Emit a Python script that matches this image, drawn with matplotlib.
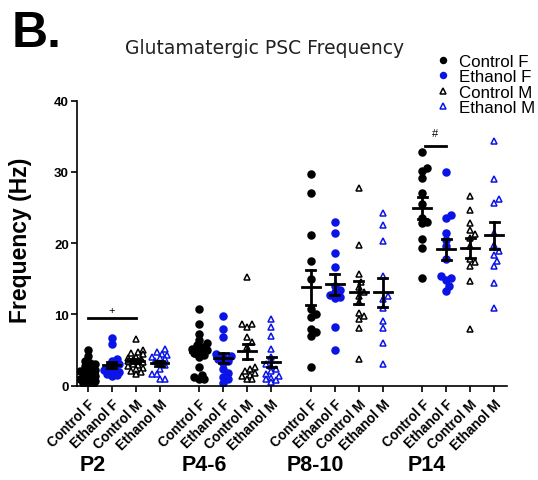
import numpy as np
import matplotlib.pyplot as plt

# ---------------- data (Hz) ----------------
ages = ["P2", "P4-6", "P8-10", "P14"]
groups = ["Control F", "Ethanol F", "Control M", "Ethanol M"]

p2_ctrl_f = [5.0, 4.2, 3.5, 3.2, 3.0, 2.7, 2.4, 2.2, 2.0, 1.8, 1.6, 1.4, 1.2, 1.0, 0.9, 0.7, 0.5, 0.4, 0.3, 0.2, 0.6, 1.1]
p2_eth_f = [6.7, 5.8, 3.8, 3.5, 3.1, 2.8, 2.5, 2.2, 2.0, 1.9, 1.7, 1.5, 1.4, 1.6]
p2_ctrl_m = [6.6, 5.0, 4.8, 4.6, 4.4, 4.1, 3.9, 3.7, 3.5, 3.3, 3.1, 2.9, 2.7, 2.5, 2.3, 2.1, 1.9, 1.6, 3.6, 3.4]
p2_eth_m = [5.2, 4.8, 4.5, 4.3, 4.1, 3.9, 3.7, 3.5, 3.2, 2.9, 2.3, 1.6, 1.6, 1.0, 0.9]

p46_ctrl_f = [10.8, 8.7, 7.3, 6.4, 6.0, 5.7, 5.5, 5.2, 5.0, 4.8, 4.6, 4.3, 4.0, 2.6, 1.5, 1.2, 1.0, 0.9]
p46_eth_f = [9.8, 7.9, 6.8, 4.5, 4.2, 4.0, 3.8, 3.5, 3.2, 2.3, 1.8, 1.2, 0.9, 0.4]
p46_ctrl_m = [15.2, 8.7, 8.6, 8.2, 6.8, 6.1, 5.5, 2.6, 2.3, 2.1, 1.8, 1.5, 1.3, 1.0, 0.9]
p46_eth_m = [9.4, 8.2, 7.0, 5.2, 4.0, 3.0, 2.8, 2.3, 2.0, 1.7, 1.4, 1.1, 0.8, 0.5, 0.9]

p810_ctrl_f = [29.7, 27.1, 21.2, 17.5, 15.0, 10.8, 10.0, 9.6, 7.9, 7.5, 7.0, 2.6]
p810_eth_f = [23.0, 21.4, 18.6, 16.6, 14.0, 13.5, 13.2, 12.8, 12.5, 12.3, 8.2, 5.0]
p810_ctrl_m = [27.7, 19.8, 15.7, 14.5, 13.8, 13.2, 12.6, 11.8, 10.2, 9.8, 9.4, 8.1, 3.7]
p810_eth_m = [24.2, 22.5, 20.3, 15.4, 12.6, 12.2, 10.9, 9.1, 8.1, 6.0, 3.1]

p14_ctrl_f = [32.8, 30.5, 30.2, 29.2, 27.1, 25.5, 23.6, 23.0, 22.8, 20.6, 19.3, 15.1]
p14_eth_f = [30.0, 24.0, 23.6, 21.5, 20.5, 19.6, 17.8, 15.4, 15.1, 14.8, 14.0, 13.3]
p14_ctrl_m = [26.6, 24.6, 22.9, 21.8, 21.3, 20.8, 19.6, 17.8, 17.4, 16.8, 14.7, 8.0]
p14_eth_m = [34.3, 29.0, 26.2, 25.6, 21.5, 19.8, 18.9, 18.3, 17.5, 16.8, 14.4, 10.9]

data = [
    [p2_ctrl_f, p2_eth_f, p2_ctrl_m, p2_eth_m],
    [p46_ctrl_f, p46_eth_f, p46_ctrl_m, p46_eth_m],
    [p810_ctrl_f, p810_eth_f, p810_ctrl_m, p810_eth_m],
    [p14_ctrl_f, p14_eth_f, p14_ctrl_m, p14_eth_m],
]

# ---------------- styles ----------------
blue = "#0a14e6"
styles = [
    dict(marker="o", mfc="black", mec="black"),
    dict(marker="o", mfc=blue, mec=blue),
    dict(marker="^", mfc="white", mec="black"),
    dict(marker="^", mfc="white", mec=blue),
]
group_step = 4.65
px_x = 24.0     # pixels per x unit
px_y = 7.125    # pixels per y unit


def swarm(values, d=5.0, maxoff=8.5):
    # spread points sideways (pixel space), overlap allowed when crowded
    order = np.argsort(values)
    placed = []
    offs = np.zeros(len(values))
    cands = [0.0]
    k = 1
    while k * d * 0.5 <= maxoff:
        cands += [k * d * 0.5, -k * d * 0.5]
        k += 1
    for idx in order:
        y = values[idx] * px_y
        best, bestdist = 0.0, -1
        for c in cands:
            dist = min([np.hypot(c - px, y - py) for px, py in placed] + [99])
            if dist >= d:
                best = c
                break
            if dist > bestdist:
                best, bestdist = c, dist
        placed.append((best, y))
        offs[idx] = best / px_x
    return offs


plt.rcParams['font.family'] = ['Liberation Sans', 'DejaVu Sans']
fig = plt.figure(figsize=(5.38, 4.81), dpi=100)
ax = fig.add_axes([0.1437, 0.196, 0.7987, 0.5926])

xticks = []
xlabels = []
for g, age in enumerate(ages):
    for i, grp in enumerate(groups):
        x0 = g * group_step + i
        xticks.append(x0)
        xlabels.append(grp)
        vals = np.array(data[g][i])
        st = styles[i]
        ax.plot(x0 + swarm(vals), vals, ls="none", marker=st["marker"], ms=5,
                mfc=st["mfc"], mec=st["mec"], mew=1.1, zorder=2,
                label=grp if g == 0 else None)
        m = vals.mean()
        sem = vals.std(ddof=1) / np.sqrt(len(vals))
        ax.plot([x0 - 0.37, x0 + 0.37], [m, m], color="black", lw=2, zorder=3)
        ax.plot([x0, x0], [m - sem, m + sem], color="black", lw=2, zorder=3)
        for e in (m - sem, m + sem):
            ax.plot([x0 - 0.19, x0 + 0.19], [e, e], color="black", lw=2, zorder=3)

# significance marks
ax.plot([0, 2], [9.45, 9.45], color="black", lw=2)
ax.text(1, 10.6, "+", ha="center", va="center", fontsize=8)
ax.plot([3 * group_step + 0.1, 3 * group_step + 1.0], [33.7, 33.7], color="black", lw=2)
ax.text(3 * group_step + 0.55, 35.4, "#", ha="center", va="center", fontsize=8)

ax.set_xlim(-0.43, 17.48)
ax.set_ylim(0, 40)
ax.set_yticks([0, 10, 20, 30, 40])
ax.set_xticks(xticks)
ax.set_xticklabels(xlabels, rotation=45, ha="right", va="top",
                   rotation_mode="anchor", fontsize=9.8, fontweight="bold")
for lab in ax.get_yticklabels():
    lab.set_fontweight("bold")
    lab.set_fontsize(9.5)
ax.tick_params(direction="out", length=4, width=1.2, pad=2)
ax.tick_params(axis="x", pad=4)
for s in ["top", "right"]:
    ax.spines[s].set_visible(False)
for s in ["left", "bottom"]:
    ax.spines[s].set_linewidth(1.2)

ax.set_ylabel("Frequency (Hz)", fontsize=16.5, fontweight="bold")
ax.yaxis.set_label_coords(-0.105, 0.515)

# age labels under each group
for g, age in enumerate(ages):
    ax.text(g * group_step + 0.2, -0.275, age, transform=ax.get_xaxis_transform(),
            ha="center", va="center", fontsize=15.5, fontweight="bold")

fig.text(0.022, 0.93, "B.", fontsize=36, fontweight="bold", ha="left", va="center")
fig.text(0.232, 0.9, "Glutamatergic PSC Frequency", fontsize=13.5, ha="left", va="center",
         color="#222222", family="DejaVu Sans")

ax.legend(loc="upper left", bbox_to_anchor=(0.8, 0.9), bbox_transform=fig.transFigure,
          frameon=False, fontsize=12.2, handlelength=0.7, handletextpad=0.6,
          labelspacing=0.02, borderaxespad=0, markerscale=0.85)

plt.savefig("out.png", dpi=100)
